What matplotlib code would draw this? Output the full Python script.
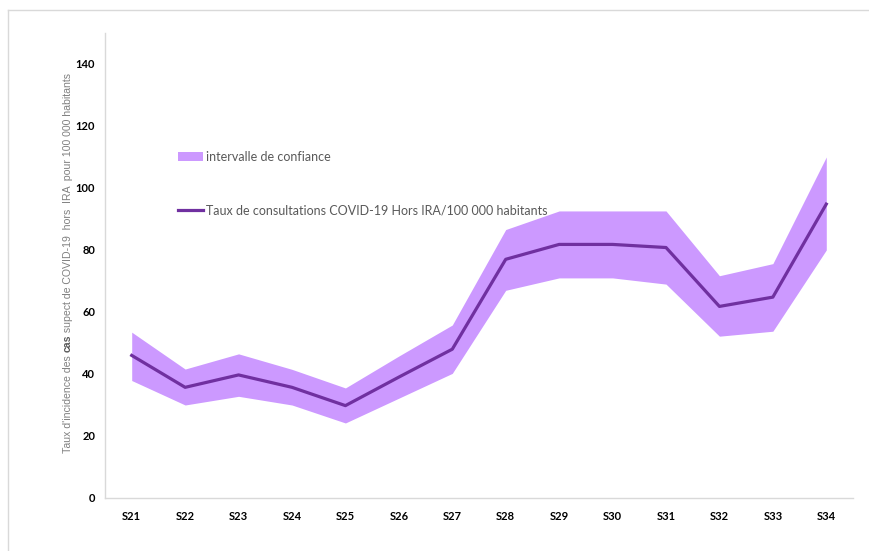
import numpy as np
import matplotlib.pyplot as plt
from matplotlib.patches import Patch
from matplotlib.lines import Line2D

# weekly data
weeks = ["S21", "S22", "S23", "S24", "S25", "S26", "S27",
         "S28", "S29", "S30", "S31", "S32", "S33", "S34"]
taux = [46, 35.7, 39.7, 35.7, 29.8, 39, 48, 77, 81.8, 81.8, 80.8, 61.8, 64.8, 94.8]
ic_haut = [53.5, 41.6, 46.5, 41.5, 35.5, 45.8, 55.8, 86.6, 92.6, 92.6, 92.6, 71.7, 75.6, 110]
ic_bas = [37.9, 30, 32.8, 30, 24.2, 32.2, 40.2, 67, 71, 71, 69, 52.2, 53.8, 80]

FILL = "#CC99FF"
LINE = "#7030A0"
GRID = "#D9D9D9"

plt.rcParams['font.family'] = ['Lato', 'DejaVu Sans']

fig = plt.figure(figsize=(8.7, 5.51), dpi=100)
ax = fig.add_axes([105 / 870, 1 - 498 / 551, 748 / 870, 465 / 551])

x = np.arange(len(weeks))
ax.fill_between(x, ic_bas, ic_haut, color=FILL, linewidth=0)
ax.plot(x, taux, color=LINE, linewidth=2.3)

ax.set_xlim(-0.5, len(weeks) - 0.5)
ax.set_ylim(0, 150)
ax.set_yticks(range(0, 141, 20))
ax.set_xticks(x)
ax.set_xticklabels(weeks)
ax.tick_params(length=0, labelsize=8)
ax.tick_params(axis='y', pad=7)
ax.tick_params(axis='x', pad=9)
for lab in ax.get_xticklabels() + ax.get_yticklabels():
    lab.set_fontweight('bold')

for side in ["top", "right"]:
    ax.spines[side].set_visible(False)
for side in ["left", "bottom"]:
    ax.spines[side].set_color(GRID)
    ax.spines[side].set_linewidth(1)

# y label in three pieces so "cas" can be bold and darker
pieces = [("Taux d'incidence des ", "normal", "#808080"),
          ("cas", "bold", "#595959"),
          (" supect de COVID-19  hors  IRA  pour 100 000 habitants", "normal", "#808080")]
renderer = fig.canvas.get_renderer()
ypos = 1 - 453 / 551
for txt, weight, col in pieces:
    t = fig.text(68 / 870, ypos, txt, rotation=90, rotation_mode="anchor",
                 ha="left", va="center", family="Liberation Sans",
                 fontsize=7.6, fontweight=weight, color=col)
    ext = t.get_window_extent(renderer)
    ypos += ext.height / fig.bbox.height

handles = [Patch(facecolor=FILL, edgecolor="none"),
           Line2D([], [], color=LINE, linewidth=2.3)]
labels = ["intervalle de confiance",
          "Taux de consultations COVID-19 Hors IRA/100 000 habitants"]
fig.legend(handles, labels, loc="upper left",
           bbox_to_anchor=(178 / 870, 1 - 151 / 551), bbox_transform=fig.transFigure,
           frameon=False, fontsize=9, labelcolor="#595959",
           borderpad=0, borderaxespad=0, handlelength=2.0, handletextpad=0.25,
           handleheight=0.65, labelspacing=3.3)

# outer chart frame
fig.add_artist(Line2D([8 / 870, 1], [1 - 10 / 551] * 2, transform=fig.transFigure,
                      color=GRID, linewidth=1))
fig.add_artist(Line2D([8 / 870] * 2, [0, 1 - 10 / 551], transform=fig.transFigure,
                      color=GRID, linewidth=1))

fig.savefig("out.png", dpi=100)
